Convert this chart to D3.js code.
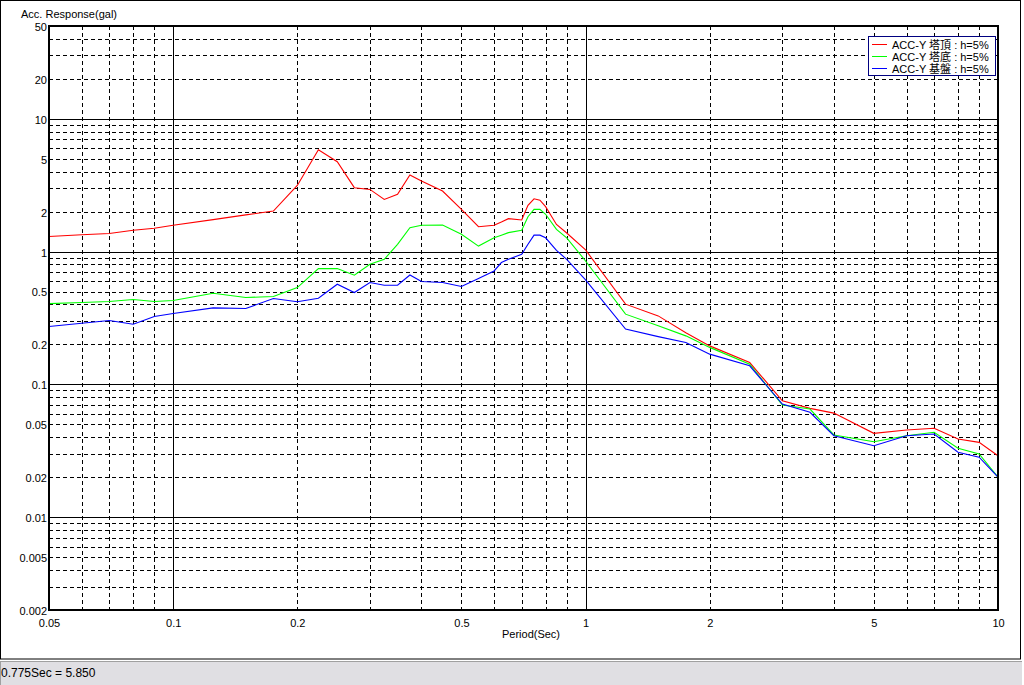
<!DOCTYPE html>
<html>
<head>
<meta charset="utf-8">
<script src="https://cdn.jsdelivr.net/npm/d3@7"></script>
<style>
  html, body { margin: 0; padding: 0; background: #ffffff; }
  svg { display: block; }
  text { font-family: "Liberation Sans", Arial, "Noto Sans CJK JP", sans-serif; fill: #000; }
</style>
</head>
<body>
<svg id="chart" width="1024" height="685"></svg>
<script>
// ---- data ----
const periods = [0.05,0.06,0.07,0.08,0.09,0.1,0.125,0.15,0.175,0.2,0.225,0.25,0.275,0.3,0.325,0.35,0.375,0.4,0.45,0.5,0.55,0.6,0.625,0.65,0.7,0.725,0.75,0.775,0.8,0.85,0.9,1.0,1.25,1.5,1.75,2.0,2.5,3.0,3.5,4.0,5.0,6.0,7.0,8.0,9.0,10.0];
const topValues = [1.30,1.34,1.37,1.45,1.50,1.58,1.74,1.89,2.02,3.15,5.85,4.75,3.03,2.94,2.47,2.70,3.77,3.40,2.86,2.08,1.54,1.58,1.67,1.77,1.73,2.23,2.50,2.44,2.18,1.60,1.38,1.03,0.402,0.328,0.245,0.195,0.146,0.0753,0.066,0.0608,0.0428,0.0453,0.0467,0.0388,0.0366,0.0290];
const baseValues = [0.406,0.414,0.421,0.436,0.421,0.428,0.486,0.451,0.459,0.536,0.745,0.745,0.664,0.803,0.875,1.135,1.515,1.58,1.585,1.35,1.10,1.27,1.33,1.39,1.45,1.83,2.08,2.08,1.91,1.47,1.27,0.850,0.338,0.276,0.232,0.190,0.142,0.0699,0.0652,0.0416,0.0370,0.0411,0.0436,0.0330,0.0299,0.0200];
const groundValues = [0.273,0.289,0.303,0.284,0.325,0.342,0.377,0.373,0.443,0.419,0.446,0.568,0.492,0.585,0.558,0.558,0.667,0.595,0.585,0.546,0.627,0.715,0.827,0.875,0.954,1.135,1.33,1.33,1.27,1.02,0.875,0.612,0.261,0.229,0.207,0.169,0.138,0.0711,0.0616,0.0411,0.0345,0.0411,0.0423,0.0308,0.0283,0.0200];
const seriesNames = ["ACC-Y 塔頂 : h=5%", "ACC-Y 塔底 : h=5%", "ACC-Y 基盤 : h=5%"];
const seriesColors = ["#ff0000", "#00ff00", "#0000ff"];
const xTickLabels = [0.05,0.1,0.2,0.5,1,2,5,10];
const yTickLabels = [50,20,10,5,2,1,0.5,0.2,0.1,0.05,0.02,0.01,0.005,0.002];
const yTitle = "Acc. Response(gal)";
const xTitle = "Period(Sec)";
const statusText = "0.775Sec = 5.850";

// ---- layout ----
const svg = d3.select("#chart");
const L = 49, R = 998, T = 26, B = 610;
const x = d3.scaleLog().domain([0.05, 10]).range([L, R]);
const y = d3.scaleLog().domain([0.002, 50]).range([B, T]);
const px = v => Math.round(v) + 0.5;

svg.append("rect").attr("x",0).attr("y",0).attr("width",1024).attr("height",685).attr("fill","#ffffff");
// window border
svg.append("rect").attr("x",0.5).attr("y",0.5).attr("width",1020).attr("height",658.5)
  .attr("fill","none").attr("stroke","#000").attr("stroke-width",1);

// status bar
svg.append("rect").attr("x",0).attr("y",661).attr("width",1022).attr("height",24).attr("fill","#e0dfe3");
svg.append("line").attr("x1",0).attr("x2",1022).attr("y1",661.5).attr("y2",661.5).attr("stroke","#a0a0a0");
svg.append("line").attr("x1",0.5).attr("x2",0.5).attr("y1",662).attr("y2",685).attr("stroke","#a0a0a0");
svg.append("text").attr("x",1).attr("y",677).attr("font-size",12).text(statusText);

// grid
const grid = svg.append("g").attr("shape-rendering","crispEdges");
const xGrid = [];
[0.01,0.1,1].forEach(d => { for (let k = 1; k <= 9; k++) xGrid.push(+(d*10*k/10*1).toPrecision(3)); });
const xGridVals = [];
for (const dec of [0.01, 0.1, 1]) for (let k = 1; k <= 9; k++) { const v = +(dec*k).toPrecision(3); if (v > 0.05 && v < 10) xGridVals.push(v); }
// include 0.06..0.09 which come from dec 0.01 (k=6..9)
const yGridVals = [];
for (const dec of [0.001, 0.01, 0.1, 1, 10]) for (let k = 1; k <= 9; k++) { const v = +(dec*k).toPrecision(3); if (v > 0.002 && v < 50) yGridVals.push(v); }
const isDecade = v => Math.abs(Math.log10(v) - Math.round(Math.log10(v))) < 1e-9;

grid.selectAll("line.vg").data(xGridVals).enter().append("line")
  .attr("x1", d => px(x(d))).attr("x2", d => px(x(d)))
  .attr("y1", T).attr("y2", B)
  .attr("stroke", "#000").attr("stroke-width", 1)
  .attr("stroke-dasharray", d => isDecade(d) ? null : "4,3");
grid.selectAll("line.hg").data(yGridVals).enter().append("line")
  .attr("x1", L).attr("x2", R)
  .attr("y1", d => px(y(d))).attr("y2", d => px(y(d)))
  .attr("stroke", "#000").attr("stroke-width", 1)
  .attr("stroke-dasharray", d => isDecade(d) ? null : "4,3");

// series
const series = [topValues, baseValues, groundValues];
const line = d3.line().x((d,i) => x(periods[i])).y(d => y(d));
series.forEach((vals, si) => {
  svg.append("path").datum(vals).attr("d", line)
    .attr("fill","none").attr("stroke", seriesColors[si]).attr("stroke-width", 1.1);
});

// frame
svg.append("rect").attr("x", L).attr("y", T).attr("width", R - L).attr("height", B - T)
  .attr("fill","none").attr("stroke","#000").attr("stroke-width",2.2).attr("shape-rendering","crispEdges");

// axes (labels only)
const fmt = d => String(d);
const xAxis = d3.axisBottom(x).tickValues(xTickLabels).tickSize(0).tickPadding(9).tickFormat(fmt);
const gx = svg.append("g").attr("transform", `translate(0,${B})`).call(xAxis);
gx.select(".domain").remove();
gx.selectAll("text").attr("font-size", 11).attr("font-family", null).attr("fill", "#000");

const yAxis = d3.axisLeft(y).tickValues(yTickLabels).tickSize(0).tickPadding(2).tickFormat(fmt);
const gy = svg.append("g").attr("transform", `translate(${L},0)`).call(yAxis);
gy.select(".domain").remove();
gy.selectAll("text").attr("font-size", 11).attr("font-family", null).attr("fill", "#000").attr("dy", "0.4em");

// titles
svg.append("text").attr("x", 21).attr("y", 18).attr("font-size", 11).text(yTitle);
svg.append("text").attr("x", 531).attr("y", 638).attr("text-anchor","middle").attr("font-size", 11).text(xTitle);

// legend
const lg = svg.append("g");
lg.append("rect").attr("x", 868.5).attr("y", 36.5).attr("width", 127).attr("height", 39)
  .attr("fill", "#ffffff").attr("stroke", "#000080").attr("stroke-width", 1);
seriesNames.forEach((name, i) => {
  const yy = 44 + i * 12;
  lg.append("line").attr("x1", 872).attr("x2", 887).attr("y1", yy + 0.5).attr("y2", yy + 0.5)
    .attr("stroke", seriesColors[i]).attr("stroke-width", 1);
  lg.append("text").attr("x", 892).attr("y", yy + 4.5).attr("font-size", 11).text(name);
});
</script>
</body>
</html>
